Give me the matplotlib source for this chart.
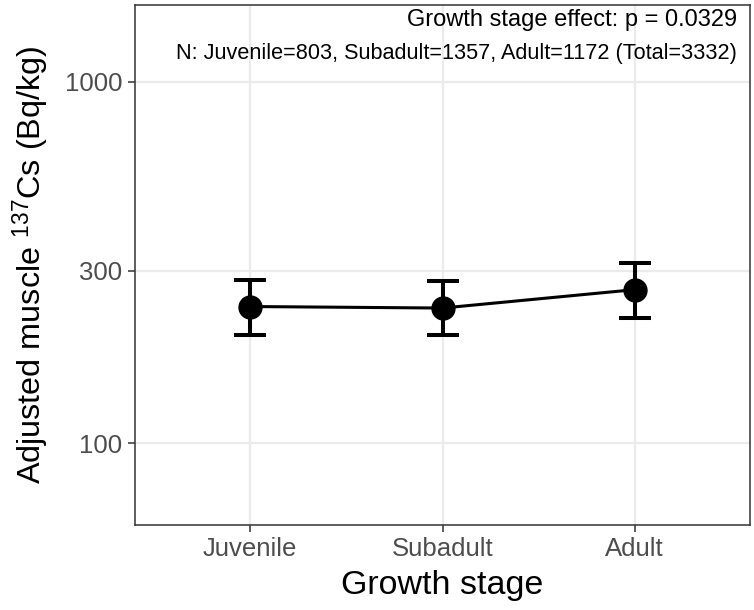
import matplotlib
matplotlib.use("Agg")
import matplotlib.pyplot as plt
import numpy as np

stages = ["Juvenile", "Subadult", "Adult"]
means = [238.8, 236.5, 265.9]
lower = [198.6, 199.6, 222.6]
upper = [283.0, 280.2, 315.0]
yticks = [100, 300, 1000]
p_text = "Growth stage effect: p = 0.0329"
n_text = "N: Juvenile=803, Subadult=1357, Adult=1172 (Total=3332)"

plt.rcParams['font.family'] = ['Liberation Sans', 'DejaVu Sans']
plt.rcParams['mathtext.fontset'] = 'custom'
plt.rcParams['mathtext.rm'] = 'Liberation Sans'
plt.rcParams['mathtext.it'] = 'Liberation Sans:italic'

fig = plt.figure(figsize=(7.54, 6.10), dpi=100)
ax = fig.add_axes([135/754, 1 - 525/610, (750-135)/754, (525-5)/610])

x = np.arange(1, len(stages) + 1)
m = np.array(means)
yerr = np.vstack([m - np.array(lower), np.array(upper) - m])

ax.plot(x, m, color='black', lw=2.2, zorder=3)
ax.errorbar(x, m, yerr=yerr, fmt='none', ecolor='black', elinewidth=2.9,
            capsize=11.5, capthick=2.9, zorder=3)
ax.plot(x, m, 'o', color='black', ms=16.5, zorder=4)

ax.set_yscale('log')
ax.set_ylim(59.3, 1633)
ax.set_xlim(0.4, 3.6)
ax.set_yticks(yticks)
ax.set_yticklabels([str(t) for t in yticks])
ax.yaxis.set_minor_locator(matplotlib.ticker.NullLocator())
ax.set_xticks(x)
ax.set_xticklabels(stages)

ax.grid(True, which='major', color='#EBEBEB', lw=1.6, zorder=0)
ax.set_axisbelow(True)
for s in ax.spines.values():
    s.set_color('#333333')
    s.set_linewidth(1.1)
ax.tick_params(axis='both', colors='#333333', width=1.1, length=5,
               labelsize=18.5, labelcolor='#4D4D4D', pad=4)

ax.set_xlabel("Growth stage", fontsize=24.5, color='black', labelpad=6)
ax.set_ylabel("Adjusted muscle $^{137}$Cs (Bq/kg)", fontsize=23.3, color='black', labelpad=9)

ax.text(0.979, 0.993, p_text, transform=ax.transAxes, ha='right', va='top',
        fontsize=17, color='black')
ax.text(0.979, 0.927, n_text, transform=ax.transAxes, ha='right', va='top',
        fontsize=15.6, color='black')

fig.savefig("out.png", dpi=100)
